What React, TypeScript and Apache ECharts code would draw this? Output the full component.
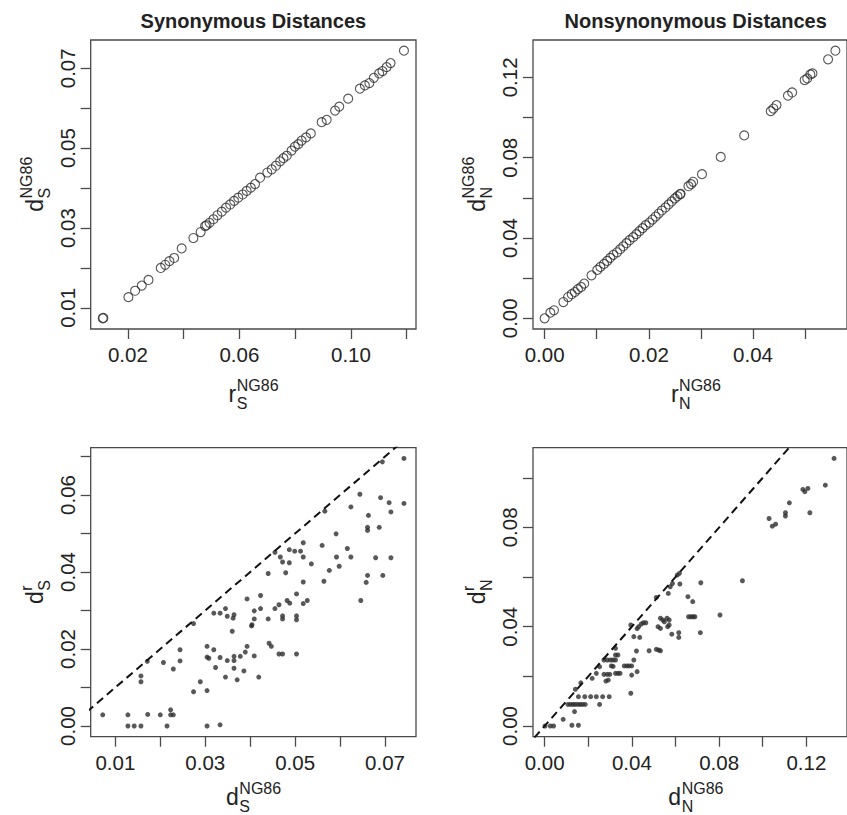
import React, { useEffect, useRef } from "react";
import * as echarts from "echarts";

// ---------- DATA ----------
// Panel 1: Synonymous, r_S^NG86 (x) vs d_S^NG86 (y)
const synR: number[] = [0.0110, 0.0112, 0.0202, 0.0226, 0.0250, 0.0274, 0.0318, 0.0334, 0.0349, 0.0366, 0.0393, 0.0435, 0.0461, 0.0477, 0.0482, 0.0493, 0.0507, 0.0521, 0.0537, 0.0552, 0.0567, 0.0581, 0.0596, 0.0612, 0.0626, 0.0641, 0.0656, 0.0674, 0.0700, 0.0716, 0.0731, 0.0746, 0.0758, 0.0770, 0.0787, 0.0799, 0.0811, 0.0823, 0.0839, 0.0856, 0.0895, 0.0913, 0.0943, 0.0958, 0.0990, 0.1032, 0.1050, 0.1066, 0.1082, 0.1101, 0.1113, 0.1128, 0.1142, 0.1190];
const synD: number[] = [0.0074, 0.0075, 0.0127, 0.0143, 0.0156, 0.0170, 0.0200, 0.0208, 0.0217, 0.0225, 0.0249, 0.0275, 0.0290, 0.0305, 0.0307, 0.0313, 0.0322, 0.0332, 0.0341, 0.0351, 0.0359, 0.0368, 0.0376, 0.0384, 0.0393, 0.0401, 0.0410, 0.0426, 0.0439, 0.0447, 0.0456, 0.0467, 0.0475, 0.0481, 0.0494, 0.0504, 0.0510, 0.0519, 0.0527, 0.0537, 0.0565, 0.0571, 0.0594, 0.0604, 0.0624, 0.0649, 0.0657, 0.0663, 0.0676, 0.0687, 0.0693, 0.0703, 0.0713, 0.0744];

// Panel 2: Nonsynonymous, r_N^NG86 (x) vs d_N^NG86 (y)
const nonR: number[] = [0.0000, 0.0011, 0.0018, 0.0036, 0.0045, 0.0052, 0.0058, 0.0064, 0.0070, 0.0076, 0.0090, 0.0101, 0.0107, 0.0114, 0.0120, 0.0126, 0.0132, 0.0139, 0.0145, 0.0151, 0.0157, 0.0163, 0.0170, 0.0176, 0.0182, 0.0188, 0.0194, 0.0201, 0.0207, 0.0213, 0.0219, 0.0225, 0.0232, 0.0238, 0.0244, 0.0250, 0.0255, 0.0260, 0.0261, 0.0276, 0.0281, 0.0285, 0.0302, 0.0338, 0.0383, 0.0434, 0.0439, 0.0445, 0.0467, 0.0475, 0.0499, 0.0504, 0.0510, 0.0514, 0.0544, 0.0558];
const nonD: number[] = [0.0000, 0.0028, 0.0040, 0.0081, 0.0106, 0.0120, 0.0131, 0.0145, 0.0156, 0.0173, 0.0214, 0.0241, 0.0256, 0.0271, 0.0286, 0.0301, 0.0316, 0.0329, 0.0344, 0.0359, 0.0374, 0.0389, 0.0404, 0.0419, 0.0434, 0.0449, 0.0464, 0.0477, 0.0492, 0.0507, 0.0522, 0.0537, 0.0552, 0.0567, 0.0582, 0.0597, 0.0608, 0.0618, 0.0620, 0.0658, 0.0668, 0.0680, 0.0718, 0.0804, 0.0911, 0.1032, 0.1045, 0.1062, 0.1109, 0.1125, 0.1187, 0.1195, 0.1215, 0.1220, 0.1290, 0.1333];

// Panel 3: d_S^NG86 (x) vs d_S^r (y)
const synNG86: number[] = [0.0072, 0.0128, 0.0128, 0.0142, 0.0157, 0.0157, 0.0157, 0.0171, 0.0172, 0.0200, 0.0207, 0.0215, 0.0223, 0.0223, 0.0229, 0.0229, 0.0244, 0.0244, 0.0274, 0.0274, 0.0289, 0.0304, 0.0304, 0.0304, 0.0304, 0.0308, 0.0319, 0.0319, 0.0323, 0.0333, 0.0333, 0.0333, 0.0345, 0.0345, 0.0349, 0.0349, 0.0360, 0.0362, 0.0364, 0.0364, 0.0364, 0.0364, 0.0371, 0.0378, 0.0386, 0.0389, 0.0393, 0.0393, 0.0403, 0.0404, 0.0409, 0.0409, 0.0409, 0.0419, 0.0423, 0.0423, 0.0440, 0.0440, 0.0442, 0.0447, 0.0455, 0.0455, 0.0464, 0.0464, 0.0467, 0.0472, 0.0472, 0.0472, 0.0472, 0.0479, 0.0482, 0.0487, 0.0487, 0.0488, 0.0499, 0.0503, 0.0503, 0.0503, 0.0503, 0.0512, 0.0518, 0.0518, 0.0518, 0.0518, 0.0527, 0.0536, 0.0560, 0.0564, 0.0566, 0.0576, 0.0591, 0.0592, 0.0598, 0.0616, 0.0624, 0.0624, 0.0644, 0.0646, 0.0658, 0.0661, 0.0663, 0.0661, 0.0661, 0.0679, 0.0687, 0.0690, 0.0694, 0.0695, 0.0709, 0.0713, 0.0713, 0.0742, 0.0742];
const synRdist: number[] = [0.0029, 0.0029, 0.0000, 0.0000, 0.0000, 0.0130, 0.0115, 0.0168, 0.0030, 0.0029, 0.0165, 0.0000, 0.0042, 0.0029, 0.0029, 0.0148, 0.0169, 0.0198, 0.0266, 0.0089, 0.0115, 0.0207, 0.0179, 0.0092, 0.0000, 0.0176, 0.0293, 0.0198, 0.0152, 0.0003, 0.0293, 0.0178, 0.0305, 0.0127, 0.0285, 0.0170, 0.0246, 0.0280, 0.0289, 0.0181, 0.0170, 0.0150, 0.0120, 0.0181, 0.0143, 0.0192, 0.0207, 0.0330, 0.0260, 0.0263, 0.0299, 0.0278, 0.0182, 0.0127, 0.0339, 0.0305, 0.0396, 0.0278, 0.0215, 0.0207, 0.0451, 0.0305, 0.0315, 0.0187, 0.0439, 0.0426, 0.0286, 0.0278, 0.0187, 0.0398, 0.0326, 0.0458, 0.0424, 0.0319, 0.0454, 0.0286, 0.0276, 0.0343, 0.0187, 0.0454, 0.0476, 0.0439, 0.0374, 0.0318, 0.0326, 0.0421, 0.0469, 0.0376, 0.0558, 0.0404, 0.0499, 0.0439, 0.0415, 0.0461, 0.0569, 0.0439, 0.0602, 0.0326, 0.0373, 0.0391, 0.0547, 0.0516, 0.0508, 0.0437, 0.0516, 0.0593, 0.0686, 0.0391, 0.0580, 0.0556, 0.0437, 0.0695, 0.0578];

// Panel 4: d_N^NG86 (x) vs d_N^r (y)
const nonNG86: number[] = [0.0002, 0.0026, 0.0041, 0.0085, 0.0125, 0.0155, 0.0137, 0.0107, 0.0119, 0.0130, 0.0140, 0.0152, 0.0163, 0.0174, 0.0186, 0.0252, 0.0155, 0.0184, 0.0211, 0.0237, 0.0266, 0.0296, 0.0395, 0.0141, 0.0166, 0.0218, 0.0237, 0.0252, 0.0272, 0.0287, 0.0302, 0.0314, 0.0325, 0.0272, 0.0287, 0.0299, 0.0281, 0.0292, 0.0306, 0.0314, 0.0325, 0.0336, 0.0346, 0.0325, 0.0336, 0.0325, 0.0365, 0.0377, 0.0387, 0.0399, 0.0399, 0.0409, 0.0424, 0.0421, 0.0395, 0.0409, 0.0424, 0.0431, 0.0443, 0.0453, 0.0464, 0.0436, 0.0479, 0.0512, 0.0523, 0.0531, 0.0512, 0.0531, 0.0542, 0.0549, 0.0561, 0.0571, 0.0520, 0.0531, 0.0564, 0.0571, 0.0567, 0.0576, 0.0586, 0.0583, 0.0608, 0.0618, 0.0615, 0.0615, 0.0620, 0.0657, 0.0679, 0.0660, 0.0671, 0.0681, 0.0689, 0.0716, 0.0714, 0.0804, 0.0907, 0.1029, 0.1044, 0.1059, 0.1104, 0.1104, 0.1122, 0.1184, 0.1193, 0.1207, 0.1216, 0.1287, 0.1327];
const nonRdist: number[] = [0.0000, 0.0000, 0.0000, 0.0027, 0.0003, 0.0003, 0.0058, 0.0087, 0.0087, 0.0087, 0.0087, 0.0087, 0.0087, 0.0087, 0.0087, 0.0087, 0.0118, 0.0118, 0.0118, 0.0118, 0.0118, 0.0118, 0.0132, 0.0148, 0.0174, 0.0192, 0.0212, 0.0239, 0.0266, 0.0266, 0.0266, 0.0266, 0.0266, 0.0208, 0.0208, 0.0208, 0.0181, 0.0185, 0.0242, 0.0240, 0.0212, 0.0212, 0.0212, 0.0286, 0.0286, 0.0313, 0.0242, 0.0242, 0.0242, 0.0242, 0.0205, 0.0266, 0.0219, 0.0302, 0.0407, 0.0360, 0.0392, 0.0400, 0.0411, 0.0416, 0.0416, 0.0357, 0.0303, 0.0309, 0.0306, 0.0303, 0.0518, 0.0434, 0.0427, 0.0420, 0.0434, 0.0427, 0.0400, 0.0393, 0.0400, 0.0407, 0.0534, 0.0561, 0.0574, 0.0370, 0.0608, 0.0615, 0.0376, 0.0357, 0.0572, 0.0521, 0.0501, 0.0440, 0.0440, 0.0440, 0.0440, 0.0577, 0.0376, 0.0447, 0.0585, 0.0836, 0.0805, 0.0813, 0.0859, 0.0846, 0.0899, 0.0953, 0.0944, 0.0957, 0.0859, 0.0970, 0.1078];

// Identity (y = x) reference line endpoints
const identityLine: number[][] = [[-1, -1], [1, 1]];

// Tick / label values
const p1xTicks = [0.02, 0.04, 0.06, 0.08, 0.10, 0.12];
const p1xLabels = [0.02, 0.06, 0.10];
const p1yTicks = [0.01, 0.02, 0.03, 0.04, 0.05, 0.06, 0.07];
const p1yLabels = [0.01, 0.03, 0.05, 0.07];
const p2xTicks = [0.00, 0.01, 0.02, 0.03, 0.04, 0.05];
const p2xLabels = [0.00, 0.02, 0.04];
const p2yTicks = [0.00, 0.02, 0.04, 0.06, 0.08, 0.10, 0.12];
const p2yLabels = [0.00, 0.04, 0.08, 0.12];
const p3xTicks = [0.01, 0.02, 0.03, 0.04, 0.05, 0.06, 0.07];
const p3xLabels = [0.01, 0.03, 0.05, 0.07];
const p3yTicks = [0.00, 0.01, 0.02, 0.03, 0.04, 0.05, 0.06, 0.07];
const p3yLabels = [0.00, 0.02, 0.04, 0.06];
const p4xTicks = [0.00, 0.02, 0.04, 0.06, 0.08, 0.10, 0.12];
const p4xLabels = [0.00, 0.04, 0.08, 0.12];
const p4yTicks = [0.00, 0.02, 0.04, 0.06, 0.08, 0.10];
const p4yLabels = [0.00, 0.04, 0.08];

const titles = ["Synonymous Distances", "Nonsynonymous Distances"];

// ---------- LAYOUT ----------
const FONT = "'Liberation Sans', Arial, Helvetica, sans-serif";
const TEXT = "#222";
const FRAME = "#4a4a4a";
const GW = 325.3;
const GH = 289;
const grids = [
  { left: 90.7, top: 40 },
  { left: 533, top: 40 },
  { left: 90.7, top: 447.7 },
  { left: 533, top: 447.7 },
];
const ranges = [
  { x: [0.00668, 0.12332], y: [0.00472, 0.07708] },
  { x: [-0.00223, 0.05803], y: [-0.00533, 0.13863] },
  { x: [0.00452, 0.07688], y: [-0.00278, 0.07228] },
  { x: [-0.00533, 0.13863], y: [-0.00431, 0.11211] },
];
const ticks = [
  { xt: p1xTicks, xl: p1xLabels, yt: p1yTicks, yl: p1yLabels },
  { xt: p2xTicks, xl: p2xLabels, yt: p2yTicks, yl: p2yLabels },
  { xt: p3xTicks, xl: p3xLabels, yt: p3yTicks, yl: p3yLabels },
  { xt: p4xTicks, xl: p4xLabels, yt: p4yTicks, yl: p4yLabels },
];
const axisTitles = [
  { x: ["r", "S", "NG86"], y: ["d", "S", "NG86"] },
  { x: ["r", "N", "NG86"], y: ["d", "N", "NG86"] },
  { x: ["d", "S", "NG86"], y: ["d", "S", "r"] },
  { x: ["d", "N", "NG86"], y: ["d", "N", "r"] },
];

const MAIN_SIZE = 23;
const SMALL_SIZE = 16;
const LABEL_SIZE = 20.5;

function measure(text: string, size: number): number {
  const c = document.createElement("canvas").getContext("2d");
  if (!c) return text.length * size * 0.6;
  c.font = `${size}px ${FONT}`;
  return c.measureText(text).width;
}

function txt(text: string, x: number, y: number, size: number, bold = false, align = "left") {
  return {
    type: "text",
    x,
    y,
    silent: true,
    style: {
      text,
      font: `${bold ? "bold " : ""}${size}px ${FONT}`,
      fill: TEXT,
      textAlign: align,
      textVerticalAlign: "middle",
      align,
      verticalAlign: "middle",
    },
  };
}

function mathTitle(cx: number, cy: number, rotated: boolean, parts: string[]) {
  const [main, sub, sup] = parts;
  const wm = measure(main, MAIN_SIZE);
  const ws = Math.max(measure(sub, SMALL_SIZE), measure(sup, SMALL_SIZE));
  const start = -(wm + ws) / 2;
  return {
    type: "group",
    x: cx,
    y: cy,
    rotation: rotated ? Math.PI / 2 : 0,
    children: [
      txt(main, start, -0.35 * MAIN_SIZE, MAIN_SIZE),
      txt(sup, start + wm + 0.5, -10.5 - 0.35 * SMALL_SIZE, SMALL_SIZE),
      txt(sub, start + wm + 0.5, 7.5 - 0.35 * SMALL_SIZE, SMALL_SIZE),
    ],
  };
}

function zip(a: number[], b: number[]): number[][] {
  return a.map((v, i) => [v, b[i]]);
}

export default function App() {
  const ref = useRef<HTMLDivElement>(null);
  useEffect(() => {
    if (!ref.current) return;
    const chart = echarts.init(ref.current, null, { renderer: "svg" });

    const fmt = (v: number) => Number(v).toFixed(2);

    const xAxis = ranges.map((r, i) => ({
      type: "value",
      gridIndex: i,
      min: r.x[0],
      max: r.x[1],
      axisLine: { show: false, onZero: false },
      axisTick: { show: true, inside: false, length: 10, lineStyle: { color: FRAME, width: 1.3 }, customValues: ticks[i].xt },
      axisLabel: { show: true, margin: 15, fontSize: LABEL_SIZE, fontFamily: FONT, color: TEXT, customValues: ticks[i].xl, formatter: fmt },
      splitLine: { show: false },
    }));
    const yAxis = ranges.map((r, i) => ({
      type: "value",
      gridIndex: i,
      min: r.y[0],
      max: r.y[1],
      axisLine: { show: false, onZero: false },
      axisTick: { show: true, inside: false, length: 10, lineStyle: { color: FRAME, width: 1.3 }, customValues: ticks[i].yt },
      axisLabel: { show: true, margin: 13, rotate: 90, fontSize: LABEL_SIZE, fontFamily: FONT, color: TEXT, customValues: ticks[i].yl, formatter: fmt },
      splitLine: { show: false },
    }));

    const openCircle = {
      symbol: "circle",
      symbolSize: 9,
      itemStyle: { color: "rgba(0,0,0,0)", borderColor: "#2a2a2a", borderWidth: 1.1 },
    };
    const dot = {
      symbol: "circle",
      symbolSize: 5,
      itemStyle: { color: "#2e2e2e" },
    };
    const dashed = {
      type: "line",
      data: identityLine,
      showSymbol: false,
      symbol: "none",
      clip: true,
      silent: true,
      lineStyle: { color: "#111", width: 2, type: [8, 5] },
    };

    const series: any[] = [
      { type: "scatter", xAxisIndex: 0, yAxisIndex: 0, data: zip(synR, synD), ...openCircle },
      { type: "scatter", xAxisIndex: 1, yAxisIndex: 1, data: zip(nonR, nonD), ...openCircle },
      { ...dashed, xAxisIndex: 2, yAxisIndex: 2 },
      { type: "scatter", xAxisIndex: 2, yAxisIndex: 2, data: zip(synNG86, synRdist), ...dot },
      { ...dashed, xAxisIndex: 3, yAxisIndex: 3 },
      { type: "scatter", xAxisIndex: 3, yAxisIndex: 3, data: zip(nonNG86, nonRdist), ...dot },
    ];

    const graphics: any[] = [];
    titles.forEach((t, i) => {
      graphics.push(txt(t, grids[i].left + GW / 2, 21.4, 20, true, "center"));
    });
    grids.forEach((g, i) => {
      const dy = i >= 2 ? 68 : 73;
      graphics.push(mathTitle(g.left + GW / 2, g.top + GH + dy, false, axisTitles[i].x));
      graphics.push(mathTitle(g.left - 48, g.top + GH / 2, true, axisTitles[i].y));
    });

    chart.setOption({
      animation: false,
      backgroundColor: "#ffffff",
      grid: grids.map((g) => ({
        left: g.left,
        top: g.top,
        width: GW,
        height: GH,
        show: true,
        borderColor: FRAME,
        borderWidth: 1.3,
        backgroundColor: "transparent",
      })),
      xAxis,
      yAxis,
      series,
      graphic: graphics,
    });
    return () => chart.dispose();
  }, []);

  return (
    <div
      ref={ref}
      style={{ position: "absolute", left: 0, top: 0, width: 847, height: 815, background: "#fff" }}
    />
  );
}
